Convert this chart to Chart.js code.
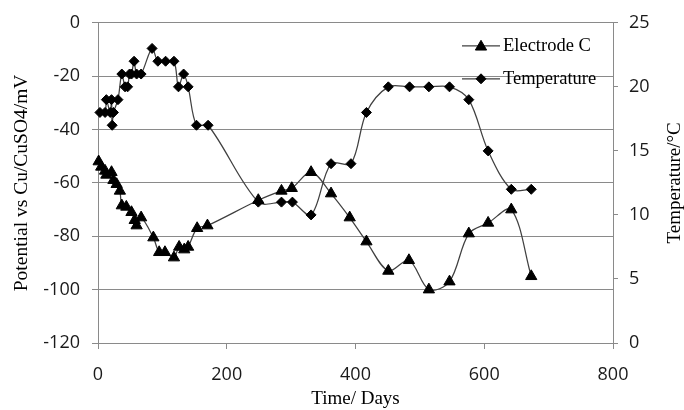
<!DOCTYPE html>
<html>
<head>
<meta charset="utf-8">
<script src="https://cdn.jsdelivr.net/npm/chart.js@4"></script>
<style>
  html, body { margin: 0; padding: 0; background: #fff; }
  canvas { display: block; }
</style>
</head>
<body>
<canvas id="chart" width="684" height="410"></canvas>
<script>
// Electrode C potential readings
const elecDays = [1, 5, 11, 13, 21, 24, 29, 34, 37, 44, 52, 57, 60, 67, 86, 95, 104, 118, 126, 134, 140, 154, 170,
  249, 285, 301, 331, 362, 391, 417, 451, 483, 514, 546, 576, 606, 642, 673]
const elecMv = [-52, -54, -55.5, -57, -56, -59, -60.5, -63, -68.5, -69, -71, -74, -76, -73, -80.5, -86, -86, -88, -84, -85, -84, -77, -76,
  -66.5, -63, -62, -56, -64, -73, -82, -93, -89, -100, -97, -79, -75, -70, -95]

// Temperature readings
const tempDays = [3, 11, 13, 19, 21, 22, 24, 31, 37, 42, 46, 49, 52, 56, 60, 67, 84, 93, 105, 118, 125, 133, 140, 153, 171,
  249, 285, 302, 331, 362, 393, 417, 451, 484, 514, 546, 576, 606, 642, 673]
const tempC = [18, 18, 19, 18, 19, 17, 18, 19, 21, 20, 20, 21, 21, 22, 21, 21, 23, 22, 22, 22, 20, 21, 20, 17, 17,
  11, 11, 11, 10, 14, 14, 18, 20, 20, 20, 20, 19, 15, 12, 12]

const xTicks = [0, 200, 400, 600, 800]
const mvTicks = [0, -20, -40, -60, -80, -100, -120]
const tempTicks = [0, 5, 10, 15, 20, 25]

const GRID = '#8a8a8a'
const LINE = '#404040'
const SERIF = '"Liberation Serif", "Times New Roman", serif'
const SANS = '"Open Sans", "Noto Sans", sans-serif'

const pts = (xs, ys) => xs.map((x, i) => ({ x, y: ys[i] }))

function marker(ctx, shape, x, y, r) {
  ctx.beginPath()
  if (shape === 'triangle') {
    for (let k = 0; k < 3; k++) {
      const a = k * 2 * Math.PI / 3
      const px = x + Math.sin(a) * r, py = y - Math.cos(a) * r
      k ? ctx.lineTo(px, py) : ctx.moveTo(px, py)
    }
  } else {
    ctx.moveTo(x, y - r); ctx.lineTo(x + r, y); ctx.lineTo(x, y + r); ctx.lineTo(x - r, y)
  }
  ctx.closePath()
  ctx.fill()
  ctx.stroke()
}

const legendBox = {
  id: 'legendBox',
  afterDraw(chart) {
    const { ctx, chartArea: a } = chart
    const rows = [
      { label: 'Electrode C', shape: 'triangle', r: 6.5 },
      { label: 'Temperature', shape: 'diamond', r: 5 },
    ]
    ctx.save()
    rows.forEach((row, i) => {
      const y = a.top + 23 + i * 33
      const x0 = a.right - 151
      ctx.strokeStyle = LINE
      ctx.lineWidth = 1.25
      ctx.beginPath(); ctx.moveTo(x0, y); ctx.lineTo(x0 + 38, y); ctx.stroke()
      ctx.fillStyle = '#000'
      ctx.strokeStyle = '#000'
      ctx.lineWidth = 1
      marker(ctx, row.shape, x0 + 19, y + (row.shape === 'triangle' ? 1 : 0), row.r)
      ctx.font = '18.5px ' + SERIF
      ctx.textAlign = 'left'
      ctx.textBaseline = 'middle'
      ctx.fillText(row.label, x0 + 41, y)
    })
    ctx.restore()
  }
}

const rightTitle = {
  id: 'rightTitle',
  afterDraw(chart) {
    const { ctx, chartArea: a } = chart
    ctx.save()
    ctx.translate(675, (a.top + a.bottom) / 2)
    ctx.rotate(-Math.PI / 2)
    ctx.font = '19px ' + SERIF
    ctx.fillStyle = '#000'
    ctx.textAlign = 'center'
    ctx.textBaseline = 'middle'
    ctx.fillText('Temperature/°C', 0, 0)
    ctx.restore()
  }
}

const tickFont = { family: SANS, size: 18 }

new Chart(document.getElementById('chart'), {
  type: 'scatter',
  data: {
    datasets: [
      {
        label: 'Electrode C',
        data: pts(elecDays, elecMv),
        yAxisID: 'y',
        showLine: true,
        clip: false,
        tension: 0.33,
        borderColor: LINE,
        borderWidth: 1.25,
        pointStyle: 'triangle',
        pointRadius: 6.5,
        pointBackgroundColor: '#000',
        pointBorderColor: '#000',
        pointBorderWidth: 1,
      },
      {
        label: 'Temperature',
        data: pts(tempDays, tempC),
        yAxisID: 'y1',
        showLine: true,
        clip: false,
        tension: 0.33,
        borderColor: LINE,
        borderWidth: 1.25,
        pointStyle: 'rectRot',
        pointRadius: 5,
        pointBackgroundColor: '#000',
        pointBorderColor: '#000',
        pointBorderWidth: 1,
      },
    ],
  },
  options: {
    responsive: false,
    animation: false,
    layout: { padding: { top: 22, left: 0, right: 0, bottom: 0 } },
    plugins: { legend: { display: false }, tooltip: { enabled: false } },
    scales: {
      x: {
        type: 'linear',
        min: 0, max: 800,
        afterFit: s => { s.height = 67 },
        afterBuildTicks: s => { s.ticks = xTicks.map(v => ({ value: v })) },
        grid: { drawOnChartArea: false, drawTicks: true, tickLength: 6, color: GRID },
        border: { display: true, color: GRID },
        ticks: { font: tickFont, color: '#1a1a1a', padding: 15, maxRotation: 0 },
        title: { display: true, text: 'Time/ Days', font: { family: SERIF, size: 19 }, color: '#000', padding: { top: 0, bottom: 0 } },
      },
      y: {
        position: 'left',
        min: -120, max: 0,
        afterFit: s => { s.width = 98 },
        afterBuildTicks: s => { s.ticks = mvTicks.map(v => ({ value: v })) },
        grid: { color: GRID, tickLength: 6 },
        border: { display: true, color: GRID },
        ticks: { font: tickFont, color: '#1a1a1a', padding: 12 },
        title: { display: true, text: 'Potential vs Cu/CuSO4/mV', font: { family: SERIF, size: 19.5 }, color: '#000', padding: { top: 10, bottom: 10 } },
      },
      y1: {
        position: 'right',
        min: 0, max: 25,
        afterFit: s => { s.width = 71 },
        afterBuildTicks: s => { s.ticks = tempTicks.map(v => ({ value: v })) },
        grid: { drawOnChartArea: false, color: GRID, tickLength: 5 },
        border: { display: true, color: GRID },
        ticks: { font: tickFont, color: '#1a1a1a', padding: 11 },
      },
    },
  },
  plugins: [legendBox, rightTitle],
})
</script>
</body>
</html>
